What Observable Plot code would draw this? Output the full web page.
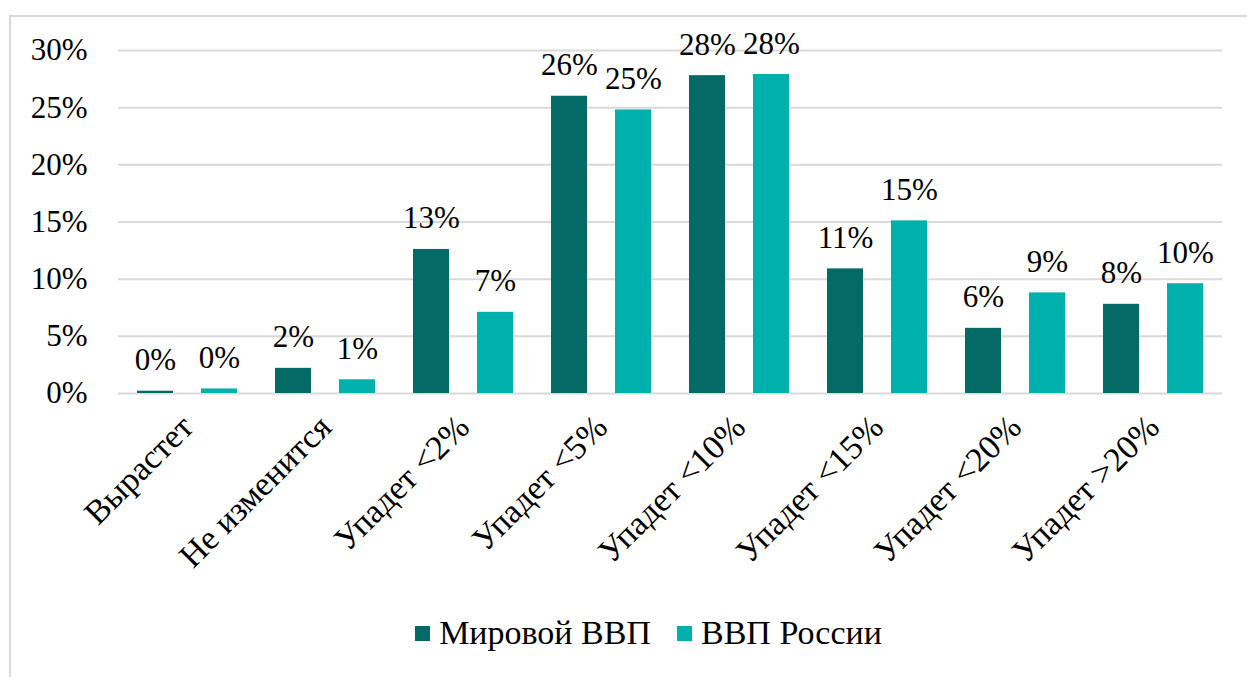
<!DOCTYPE html>
<html>
<head>
<meta charset="utf-8">
<script src="https://cdn.jsdelivr.net/npm/d3@7"></script>
<script src="https://cdn.jsdelivr.net/npm/@observablehq/plot@0.6"></script>
<style>
  html, body { margin: 0; padding: 0; background: #fff; }
  body { width: 1247px; height: 677px; overflow: hidden; position: relative; font-family: "Liberation Serif", "Times New Roman", Times, "DejaVu Serif", serif; }
  #frame { position: absolute; left: 9px; top: 15px; width: 1260px; height: 720px; border: 2px solid #d9d9d9; box-sizing: border-box; }
  #chart { position: absolute; left: 0; top: 0; }
  #legend { position: absolute; left: 0; width: 1297px; top: 614px; display: flex; justify-content: center; align-items: center; font-size: 34px; color: #000; gap: 26px; }
  .item { display: flex; align-items: center; gap: 9px; }
  .sw { width: 15px; height: 15px; display: inline-block; }
</style>
</head>
<body>
<div id="frame"></div>
<div id="chart"></div>
<div id="legend"></div>
<script>
const categories = ["Вырастет", "Не изменится", "Упадет <2%", "Упадет <5%", "Упадет <10%", "Упадет <15%", "Упадет <20%", "Упадет >20%"];
const series = ["Мировой ВВП", "ВВП России"];
const worldGdp = [0.2, 2.2, 12.6, 26.0, 27.8, 10.9, 5.7, 7.8];
const russiaGdp = [0.4, 1.2, 7.1, 24.8, 27.9, 15.1, 8.8, 9.6];
const yTicks = [0, 5, 10, 15, 20, 25, 30];
const colors = ["#036a66", "#00b0ac"];

const data = [];
categories.forEach((c, i) => {
  data.push({cat: c, series: series[0], value: worldGdp[i]});
  data.push({cat: c, series: series[1], value: russiaGdp[i]});
});

const FONT = "'Liberation Serif', 'Times New Roman', Times, 'DejaVu Serif', serif";

const chart = Plot.plot({
  width: 1247,
  height: 600,
  marginLeft: 115,
  marginRight: 22,
  marginTop: 50,
  marginBottom: 207,
  style: {fontFamily: FONT, fontSize: "30px", color: "#000", background: "transparent", overflow: "visible"},
  fx: {domain: categories, padding: 0, label: null},
  x: {domain: series, axis: null, paddingInner: 0.43, paddingOuter: 0.28},
  y: {domain: [0, 30], label: null},
  color: {domain: series, range: colors},
  marks: [
    Plot.gridY(yTicks, {stroke: "#d9d9d9", strokeOpacity: 1, strokeWidth: 2}),
    Plot.axisY(yTicks, {tickSize: 0, tickPadding: 31, tickFormat: d => d + "%", label: null, fill: "#000", fontFamily: FONT, fontSize: 31}),
    Plot.axisFx({anchor: "bottom", tickRotate: -45, tickSize: 0, tickPadding: 28, label: null, fill: "#000", fontFamily: FONT, fontSize: 34}),
    Plot.barY(data, {fx: "cat", x: "series", y: "value", fill: "series"}),
    Plot.text(data, {fx: "cat", x: "series", y: "value", text: d => Math.round(d.value) + "%", lineAnchor: "bottom", dy: -21, fill: "#000", fontFamily: FONT, fontSize: 31})
  ]
});
document.getElementById("chart").appendChild(chart);

const legend = document.getElementById("legend");
series.forEach((s, i) => {
  const item = document.createElement("div");
  item.className = "item";
  const sw = document.createElement("span");
  sw.className = "sw";
  sw.style.background = colors[i];
  const t = document.createElement("span");
  t.textContent = s;
  item.appendChild(sw);
  item.appendChild(t);
  legend.appendChild(item);
});
</script>
</body>
</html>
